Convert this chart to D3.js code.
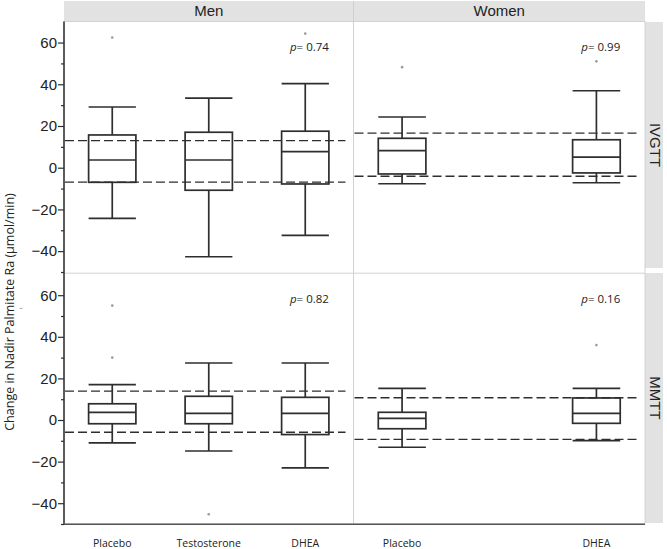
<!DOCTYPE html>
<html>
<head>
<meta charset="utf-8">
<script src="https://d3js.org/d3.v7.min.js"></script>
<style>
    body { margin: 0; background: #fff; }
    svg { display: block; }
</style>
</head>
<body>
<div id="chart"></div>
<script>
// groups and facets
const groups = ["Placebo", "Testosterone", "DHEA"];
const sexes = ["Men", "Women"];
const tests = ["IVGTT", "MMTT"];
const yTicks = [-40, -20, 0, 20, 40, 60];
const yMinor = [-50, -30, -10, 10, 30, 50];

// box stats: [low whisker, q1, median, q3, high whisker], null = group not in facet
const menIvgtt   = [[-24.3, -7, 3.7, 15.7, 29.1], [-42.7, -10.8, 3.7, 17, 33.4], [-32.4, -7.8, 7.7, 17.5, 40.3]];
const womenIvgtt = [[-7.7, -3, 8.2, 14.1, 24.3], null, [-7.2, -2.5, 5.1, 13.4, 36.9]];
const menMmtt    = [[-11, -1.8, 3.7, 7.8, 17], [-14.9, -1.8, 3.2, 11.4, 27.4], [-23, -7, 3.2, 10.9, 27.4]];
const womenMmtt  = [[-13.1, -4.2, 0.8, 3.7, 15.2], null, [-9.9, -1.6, 3.2, 10.6, 15.2]];

// outliers per group
const menIvgttOut   = [[62.4], [], [64.3]];
const womenIvgttOut = [[48.2], [], [51]];
const menMmttOut    = [[55, 30], [-45.3], []];
const womenMmttOut  = [[], [], [36]];

// dashed reference lines [upper, lower]
const menIvgttRef   = [13, -6.9];
const womenIvgttRef = [16.6, -4.1];
const menMmttRef    = [13.9, -5.9];
const womenMmttRef  = [10.7, -9.3];

const pValues = [["0.74", "0.99"], ["0.82", "0.16"]];

const boxes = [[menIvgtt, womenIvgtt], [menMmtt, womenMmtt]];
const outliers = [[menIvgttOut, womenIvgttOut], [menMmttOut, womenMmttOut]];
const refs = [[menIvgttRef, womenIvgttRef], [menMmttRef, womenMmttRef]];

const W = 667, H = 549;
const colX = [[64, 353.5], [353.5, 645]];
const rowY = [[21.7, 272], [274.4, 524]];
const ink = "#2e2e2e", grid = "#d2d2d2", strip = "#e2e2e2";
const tickFont = "'Liberation Sans', Arial, sans-serif";
const labFont = "'Open Sans', 'Noto Sans', sans-serif";

const svg = d3.select("#chart").append("svg")
    .attr("width", W).attr("height", H);

// top strips
sexes.forEach((s, c) => {
    svg.append("rect").attr("x", colX[c][0]).attr("y", 1)
        .attr("width", colX[c][1] - colX[c][0]).attr("height", 20)
        .attr("fill", strip);
    svg.append("text").attr("x", (colX[c][0] + colX[c][1]) / 2).attr("y", 16)
        .attr("text-anchor", "middle").attr("font-family", tickFont)
        .attr("font-size", 15).attr("fill", "#222").text(s);
});
svg.append("line").attr("x1", 353.5).attr("x2", 353.5).attr("y1", 1).attr("y2", 21)
    .attr("stroke", "#cfcfcf");

// right strips
const stripY = [[22, 268], [273, 523]];
tests.forEach((t, r) => {
    svg.append("rect").attr("x", 645).attr("y", stripY[r][0])
        .attr("width", 18).attr("height", stripY[r][1] - stripY[r][0])
        .attr("fill", strip);
    const cy = (stripY[r][0] + stripY[r][1]) / 2;
    svg.append("text").attr("transform", `translate(649.5,${cy}) rotate(90)`)
        .attr("text-anchor", "middle").attr("font-family", tickFont)
        .attr("font-size", 15).attr("fill", "#222").text(t);
});

// panel borders
svg.append("rect").attr("x", 64).attr("y", 21.5).attr("width", 581).attr("height", 502.5)
    .attr("fill", "none").attr("stroke", grid);
svg.append("line").attr("x1", 353.5).attr("x2", 353.5).attr("y1", 21.5).attr("y2", 524)
    .attr("stroke", grid);
svg.append("line").attr("x1", 64).attr("x2", 645).attr("y1", 273.2).attr("y2", 273.2)
    .attr("stroke", grid);

tests.forEach((t, r) => {
    const y = d3.scaleLinear().domain([-50, 70]).range([rowY[r][1], rowY[r][0]]);

    // y axis
    const ax = svg.append("g").attr("transform", "translate(64,0)")
        .call(d3.axisLeft(y).tickValues(yTicks).tickSize(6).tickSizeOuter(0).tickPadding(1));
    ax.select(".domain").remove();
    ax.selectAll(".tick line").attr("stroke", ink).attr("stroke-width", 1.2);
    ax.selectAll(".tick text").attr("font-family", tickFont).attr("font-size", 15)
        .attr("fill", "#222");
    const mn = svg.append("g").attr("transform", "translate(64,0)")
        .call(d3.axisLeft(y).tickValues(yMinor).tickSize(3).tickFormat(""));
    mn.select(".domain").remove();
    mn.selectAll(".tick line").attr("stroke", ink).attr("stroke-width", 1.2);

    sexes.forEach((s, c) => {
        const x = d3.scaleBand().domain(groups).range(colX[c]);
        const bw = x.bandwidth() * 0.49;
        const g = svg.append("g");

        // reference lines
        g.selectAll("line.ref").data(refs[r][c]).join("line")
            .attr("x1", colX[c][0] + 1).attr("x2", colX[c][1] - 8)
            .attr("y1", d => y(d)).attr("y2", d => y(d))
            .attr("stroke", ink).attr("stroke-width", 1.4)
            .attr("stroke-dasharray", "9,4");

        const data = groups.map((gr, i) => ({ gr, s: boxes[r][c][i], out: outliers[r][c][i] }))
            .filter(d => d.s);

        data.forEach(d => {
            const cx = x(d.gr) + x.bandwidth() / 2;
            const [lo, q1, med, q3, hi] = d.s;
            const bg = g.append("g").attr("stroke", ink).attr("stroke-width", 1.7).attr("fill", "none");
            bg.append("line").attr("x1", cx).attr("x2", cx).attr("y1", y(hi)).attr("y2", y(q3));
            bg.append("line").attr("x1", cx).attr("x2", cx).attr("y1", y(q1)).attr("y2", y(lo));
            [hi, lo].forEach(v => bg.append("line")
                .attr("x1", cx - bw / 2).attr("x2", cx + bw / 2)
                .attr("y1", y(v)).attr("y2", y(v)));
            bg.append("rect").attr("x", cx - bw / 2).attr("y", y(q3))
                .attr("width", bw).attr("height", y(q1) - y(q3));
            bg.append("line").attr("x1", cx - bw / 2).attr("x2", cx + bw / 2)
                .attr("y1", y(med)).attr("y2", y(med));
            g.selectAll(null).data(d.out).join("circle")
                .attr("cx", cx).attr("cy", v => y(v)).attr("r", 1.3).attr("fill", "#9a9a9a");
        });

        // p value
        const px = x("DHEA") + x.bandwidth() / 2 + bw / 2;
        const pt = g.append("text").attr("x", px).attr("y", rowY[r][0] + 29)
            .attr("text-anchor", "end").attr("font-family", labFont)
            .attr("font-size", 11.5).attr("fill", "#222");
        pt.append("tspan").attr("font-style", "italic").text("p");
        pt.append("tspan").text("= " + pValues[r][c]);

        // category labels
        if (r === 1) {
            g.selectAll("text.cat").data(data).join("text")
                .attr("x", d => x(d.gr) + x.bandwidth() / 2).attr("y", 547)
                .attr("text-anchor", "middle").attr("font-family", labFont)
                .attr("font-size", 10.5).attr("fill", "#222").text(d => d.gr);
        }
    });
});

// axis lines
svg.append("line").attr("x1", 64).attr("x2", 64).attr("y1", 21.5).attr("y2", 524.5)
    .attr("stroke", ink).attr("stroke-width", 1.5);
svg.append("line").attr("x1", 64).attr("x2", 645).attr("y1", 524.3).attr("y2", 524.3)
    .attr("stroke", "#555").attr("stroke-width", 1.5);

// y title
svg.append("text").attr("transform", "translate(14,312) rotate(-90)")
    .attr("text-anchor", "middle").attr("font-family", labFont)
    .attr("font-size", 12.5).attr("fill", "#222")
    .text("Change in Nadir Palmitate Ra (\u00b5mol/min)");
svg.append("text").attr("x", 21).attr("y", 314).attr("text-anchor", "middle")
    .attr("font-family", labFont).attr("font-size", 9).attr("fill", "#666").text("\u02d8");
</script>
</body>
</html>
